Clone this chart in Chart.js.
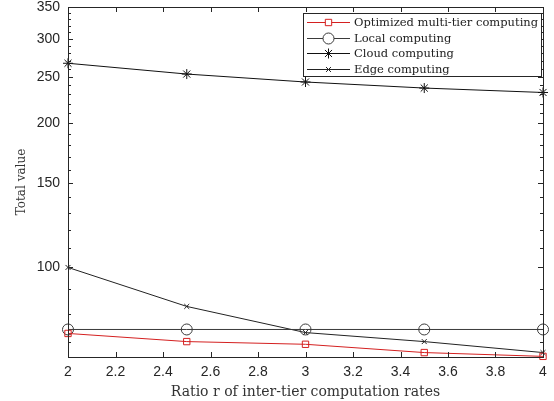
<!DOCTYPE html>
<html>
<head>
<meta charset="utf-8">
<script src="https://cdn.jsdelivr.net/npm/chart.js@4/dist/chart.umd.min.js"></script>
<style>
  html, body { margin: 0; padding: 0; background: #fff; }
  #wrap { width: 554px; height: 401px; }
</style>
</head>
<body>
<div id="wrap"><canvas id="chart" width="554" height="401"></canvas></div>
<script>
const ratios = [2, 2.5, 3, 3.5, 4];
const optimized = [72.8, 70.0, 69.1, 66.4, 65.2];
const local = [74.2, 74.2, 74.2, 74.2, 74.2];
const cloud = [267, 253.5, 244, 237, 232];
const edge = [100, 82.9, 73.1, 70.0, 66.4];

const yMajor = [100, 150, 200, 250, 300, 350];
const yMinor = [70, 80, 90, 110, 120, 130, 140, 160, 170, 180, 190, 210, 220, 230, 240, 260, 270, 280, 290, 310, 320, 330, 340];
const xTicks = [2, 2.2, 2.4, 2.6, 2.8, 3, 3.2, 3.4, 3.6, 3.8, 4];

const axisColor = "#262626";
const serif = "'DejaVu Serif', 'Liberation Serif', serif";

// frame, inward ticks and legend, matlab style
const matlabAxes = {
    id: "matlabAxes",
    afterDraw(chart) {
        const ctx = chart.ctx;
        const a = chart.chartArea;
        const xs = chart.scales.x;
        const ys = chart.scales.y;
        ctx.save();
        ctx.strokeStyle = axisColor;
        ctx.lineWidth = 1;
        ctx.strokeRect(Math.round(a.left) + 0.5, Math.round(a.top) + 0.5, Math.round(a.right - a.left), Math.round(a.bottom - a.top));
        ctx.beginPath();
        xTicks.forEach((v) => {
            const px = Math.round(xs.getPixelForValue(v)) + 0.5;
            ctx.moveTo(px, a.bottom); ctx.lineTo(px, a.bottom - 5);
            ctx.moveTo(px, a.top); ctx.lineTo(px, a.top + 5);
        });
        yMajor.forEach((v) => {
            const py = Math.round(ys.getPixelForValue(v)) + 0.5;
            ctx.moveTo(a.left, py); ctx.lineTo(a.left + 5, py);
            ctx.moveTo(a.right, py); ctx.lineTo(a.right - 5, py);
        });
        yMinor.forEach((v) => {
            const py = Math.round(ys.getPixelForValue(v)) + 0.5;
            ctx.moveTo(a.left, py); ctx.lineTo(a.left + 3, py);
            ctx.moveTo(a.right, py); ctx.lineTo(a.right - 3, py);
        });
        ctx.stroke();

        // legend
        const lx = 303, ly = 13, lw = 238, lh = 63;
        ctx.fillStyle = "#fff";
        ctx.fillRect(lx, ly, lw, lh);
        ctx.strokeStyle = axisColor;
        ctx.strokeRect(lx + 0.5, ly + 0.5, lw, lh);
        ctx.font = "11.5px " + serif;
        ctx.textBaseline = "middle";
        chart.data.datasets.forEach((ds, i) => {
            const y = Math.round(ly + 9 + i * 15.5) + 0.5;
            ctx.strokeStyle = ds.borderColor;
            ctx.lineWidth = 1;
            ctx.beginPath();
            ctx.moveTo(307, y); ctx.lineTo(350, y);
            ctx.stroke();
            ctx.fillStyle = "#fff";
            ctx.strokeStyle = ds.borderColor;
            Chart.helpers.drawPoint(ctx, {
                pointStyle: ds.pointStyle,
                radius: ds.pointRadius,
                borderWidth: 1
            }, 328.5, y);
            ctx.fillStyle = "#222";
            ctx.fillText(ds.label, 354, y + 0.5);
        });
        ctx.restore();
    }
};

function series(label, data, color, style, radius) {
    return {
        label: label,
        data: data,
        borderColor: color,
        backgroundColor: "rgba(0,0,0,0)",
        borderWidth: 1,
        pointStyle: style,
        pointRadius: radius,
        pointBorderColor: color,
        pointBorderWidth: 1,
        pointBackgroundColor: "rgba(0,0,0,0)",
        tension: 0,
        fill: false
    };
}

new Chart(document.getElementById("chart").getContext("2d"), {
    type: "line",
    data: {
        datasets: [
            series("Optimized multi-tier computing", ratios.map((r, i) => ({ x: r, y: optimized[i] })), "#d42020", "rect", 4.5),
            series("Local computing", ratios.map((r, i) => ({ x: r, y: local[i] })), "#3a3a3a", "circle", 5.5),
            series("Cloud computing", ratios.map((r, i) => ({ x: r, y: cloud[i] })), "#111111", "star", 5),
            series("Edge computing", ratios.map((r, i) => ({ x: r, y: edge[i] })), "#222222", "crossRot", 3.5)
        ]
    },
    options: {
        responsive: false,
        animation: false,
        clip: false,
        layout: { padding: { top: 7, right: 11, left: 0, bottom: 0 } },
        plugins: { legend: { display: false }, tooltip: { enabled: false } },
        scales: {
            x: {
                type: "linear",
                min: 2,
                max: 4,
                afterBuildTicks: (s) => { s.ticks = xTicks.map((v) => ({ value: v })); },
                afterFit: (s) => { s.height = 44; s.paddingLeft = 0; s.paddingRight = 0; },
                grid: { display: false, drawTicks: false },
                border: { display: false },
                ticks: {
                    color: axisColor,
                    font: { family: "'Liberation Sans', Arial, sans-serif", size: 14 },
                    padding: 7,
                    maxRotation: 0,
                    callback: (v) => String(Math.round(v * 10) / 10)
                },
                title: {
                    display: true,
                    text: "Ratio r of inter-tier computation rates",
                    color: "#333",
                    font: { family: serif, size: 14 },
                    padding: { top: -1, bottom: 0 }
                }
            },
            y: {
                type: "logarithmic",
                min: 65,
                max: 350,
                afterBuildTicks: (s) => { s.ticks = yMajor.map((v) => ({ value: v })); },
                afterFit: (s) => { s.width = 68; s.paddingTop = 0; s.paddingBottom = 0; },
                grid: { display: false, drawTicks: false },
                border: { display: false },
                ticks: {
                    color: axisColor,
                    font: { family: "'Liberation Sans', Arial, sans-serif", size: 14 },
                    padding: 8,
                    callback: (v) => String(v)
                },
                title: {
                    display: true,
                    text: "Total value",
                    color: "#333",
                    font: { family: serif, size: 12 },
                    padding: { top: 15, bottom: 0 }
                }
            }
        }
    },
    plugins: [matlabAxes]
});
</script>
</body>
</html>
